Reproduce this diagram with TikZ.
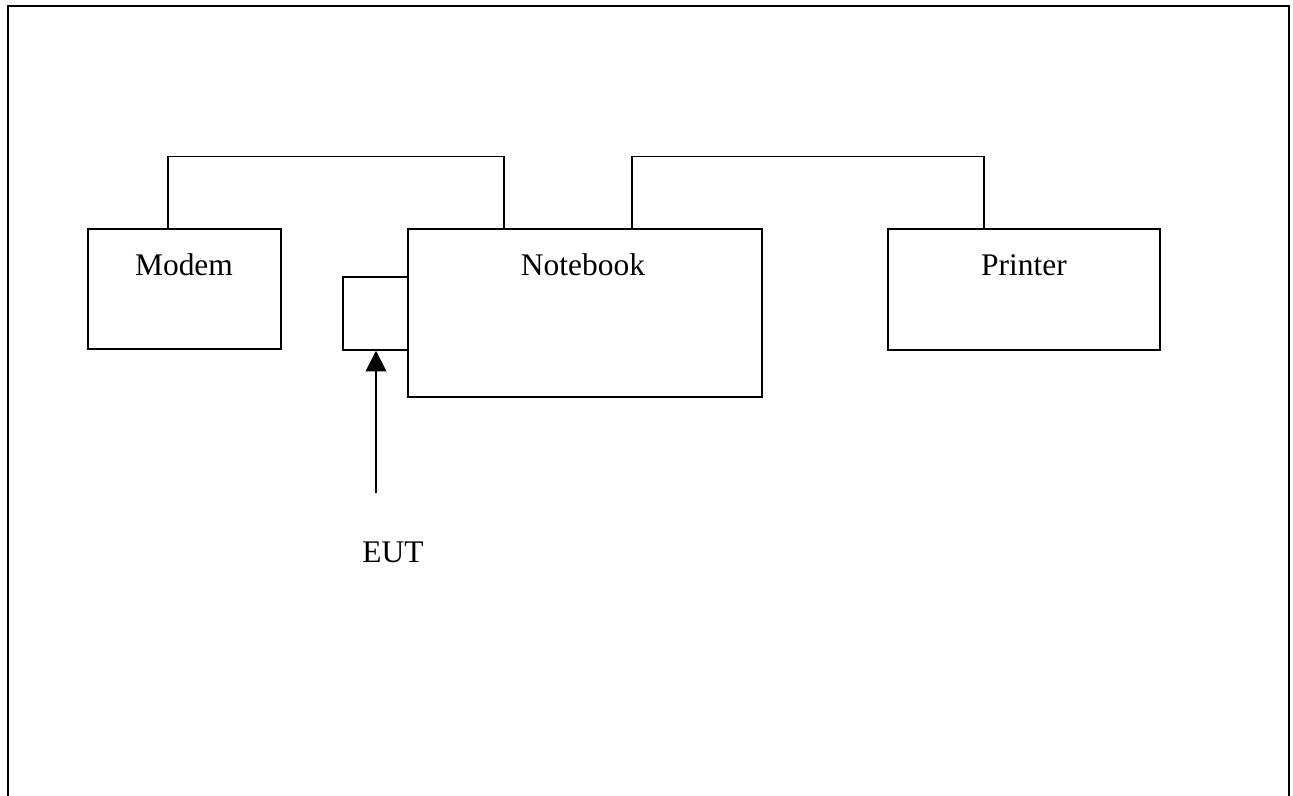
\documentclass[tikz,border=0pt]{standalone}
\usepackage{fontspec}
\setmainfont{Liberation Serif}
\usetikzlibrary{arrows.meta}
\begin{document}
\begin{tikzpicture}[x=0.75pt,y=-0.75pt,
  box/.style={draw,line width=1.1pt,rectangle,inner sep=0pt},
  lbl/.style={anchor=base,inner sep=0pt,font=\fontsize{23.6}{28}\selectfont},
  wire/.style={line width=1.1pt},
  frame/.style={line width=1.5pt}]
\useasboundingbox (0,0) rectangle (1293,796);
\begin{scope}
\clip (0,0) rectangle (1293,796);
\draw[frame] (7.5,800) -- (7.5,5.5) -- (1288.5,5.5) -- (1288.5,800);
\end{scope}
% equipment boxes
\node[box,minimum width=144.75pt,minimum height=90pt] (modem) at (184.5,289) {};
\node[box,minimum width=265.5pt,minimum height=126pt] (notebook) at (585,313) {};
\node[box,minimum width=204pt,minimum height=90.75pt] (printer) at (1024,289.5) {};
\node[box,minimum width=48.75pt,minimum height=54.75pt] (port) at (375.5,313.5) {};
% labels
\node[lbl] (tmodem) at (184,275) {Modem};
\node[lbl] (tnotebook) at (583,275) {Notebook};
\node[lbl] (tprinter) at (1024,275) {Printer};
\node[lbl] (teut) at (393,562) {EUT};
% cables
\draw[wire] ([xshift=-12.375pt]modem.north) -- ++(0,-72) -| ([xshift=-60.75pt]notebook.north);
\draw[wire] ([xshift=35.25pt]notebook.north) -- ++(0,-72) -| ([xshift=-30pt]printer.north);
% pointer to the unit under test
\coordinate (eutfoot) at (376,493);
\draw[line width=1.4pt,-{Triangle[width=15.5pt,length=15.5pt]}] (eutfoot) -- (eutfoot |- port.south);
\end{tikzpicture}
\end{document}
